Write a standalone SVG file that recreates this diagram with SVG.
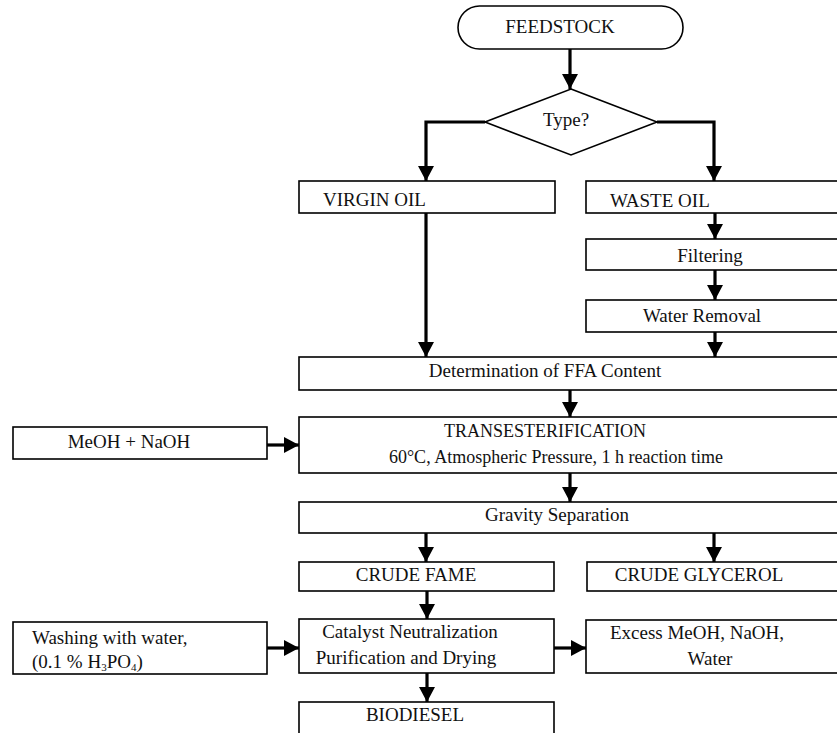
<svg xmlns="http://www.w3.org/2000/svg" width="837" height="733" viewBox="0 0 837 733">
<defs>
<marker id="ah" markerUnits="userSpaceOnUse" markerWidth="17" markerHeight="17" refX="15" refY="8" orient="auto">
<path d="M0,0 L15,8 L0,16 Z" fill="#000"/>
</marker>
<style>
.box{fill:#fff;stroke:#000;stroke-width:1.6}
.t{font-family:"Liberation Serif","Times New Roman",serif;font-size:19px;fill:#111}
.s{font-size:18px}
.c{text-anchor:middle}
.conn path{fill:none;stroke:#000;stroke-width:3.2;marker-end:url(#ah)}
</style>
</defs>
<rect width="837" height="733" fill="#fff"/>
<g class="conn" id="connectors">
<path d="M570,49 V89"/>
<path d="M485,122 H426 V181"/>
<path d="M657,122 H714 V181"/>
<path d="M426,213 V357"/>
<path d="M715,213 V239"/>
<path d="M715,270 V300"/>
<path d="M715,332 V357"/>
<path d="M570,390 V417"/>
<path d="M267,445 H299"/>
<path d="M570,473 V502"/>
<path d="M426,533 V562"/>
<path d="M714,533 V562"/>
<path d="M427,591 V619"/>
<path d="M267,648 H299"/>
<path d="M554,648 H586"/>
<path d="M427,673 V702"/>
</g>
<g id="feedstock"><rect class="box" x="458" y="6" width="225" height="43" rx="21.5"/><text class="t c" x="560" y="33">FEEDSTOCK</text></g>
<g id="type"><polygon class="box" points="571,89 657,122 571,155 485,122"/><text class="t c" x="566" y="126">Type?</text></g>
<g id="virgin"><rect class="box" x="299" y="181" width="256" height="32"/><text class="t" x="323" y="206">VIRGIN OIL</text></g>
<g id="waste"><rect class="box" x="586" y="181" width="260" height="32"/><text class="t" x="610" y="207">WASTE OIL</text></g>
<g id="filtering"><rect class="box" x="586" y="239" width="260" height="31"/><text class="t c" x="710" y="262">Filtering</text></g>
<g id="water-removal"><rect class="box" x="586" y="300" width="260" height="32"/><text class="t c" x="702" y="322">Water Removal</text></g>
<g id="ffa"><rect class="box" x="299" y="357" width="547" height="33"/><text class="t c" x="545" y="377">Determination of FFA Content</text></g>
<g id="trans"><rect class="box" x="299" y="417" width="547" height="56"/><text class="t s c" x="545" y="437">TRANSESTERIFICATION</text><text class="t s c" x="556" y="463">60°C, Atmospheric Pressure, 1 h reaction time</text></g>
<g id="meoh"><rect class="box" x="13" y="427" width="254" height="32"/><text class="t c" x="129" y="448">MeOH + NaOH</text></g>
<g id="gravity"><rect class="box" x="299" y="502" width="547" height="31"/><text class="t c" x="557" y="521">Gravity Separation</text></g>
<g id="fame"><rect class="box" x="299" y="562" width="255" height="29"/><text class="t c" x="416" y="581">CRUDE FAME</text></g>
<g id="glycerol"><rect class="box" x="587" y="562" width="260" height="29"/><text class="t c" x="699" y="581">CRUDE GLYCEROL</text></g>
<g id="catalyst"><rect class="box" x="299" y="619" width="255" height="54"/><text class="t c" x="410" y="638">Catalyst Neutralization</text><text class="t c" x="406" y="664">Purification and Drying</text></g>
<g id="washing"><rect class="box" x="13" y="622" width="254" height="52"/><text class="t" x="32" y="644">Washing with water,</text><text class="t" x="32" y="668">(0.1 % H<tspan font-size="11" dy="3">3</tspan><tspan dy="-3">PO</tspan><tspan font-size="11" dy="3">4</tspan><tspan dy="-3">)</tspan></text></g>
<g id="excess"><rect class="box" x="586" y="620" width="260" height="53"/><text class="t c" x="697" y="639">Excess MeOH, NaOH,</text><text class="t c" x="710" y="665">Water</text></g>
<g id="biodiesel"><rect class="box" x="299" y="702" width="255" height="35"/><text class="t c" x="415" y="721">BIODIESEL</text></g>
</svg>
